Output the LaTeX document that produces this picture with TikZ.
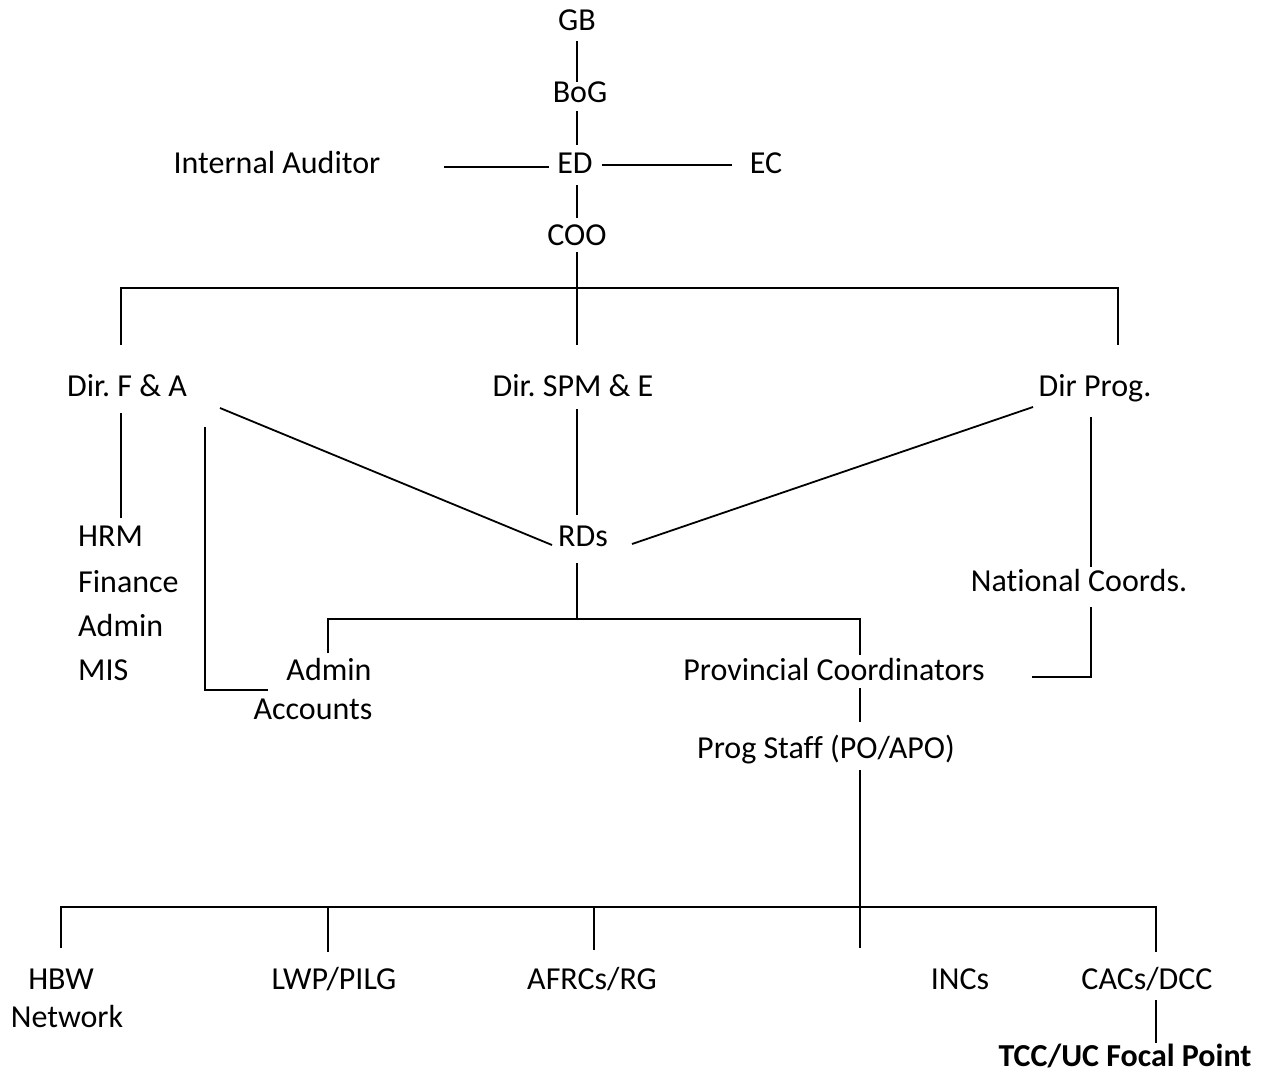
\documentclass[tikz,border=0pt]{standalone}
\usepackage{fontspec}
\setmainfont{Carlito}[Ligatures=NoCommon]
\begin{document}
\frenchspacing
\begin{tikzpicture}[x=1pt,y=-1pt,
  lbl/.style={inner sep=0pt,anchor=base,font=\fontsize{32}{38}\selectfont},
  lbll/.style={lbl,anchor=base west},
  conn/.style={line width=1.8pt,line cap=butt}]
\useasboundingbox (0,0) rectangle (1266,1072);
% labels
\node[lbl] (GB) at (577,30) {GB};
\node[lbl] (BoG) at (580,102) {BoG};
\node[lbl] (ED) at (575,173) {ED};
\node[lbl] (IA) at (277,173) {Internal Auditor};
\node[lbl] (EC) at (766,173) {EC};
\node[lbl] (COO) at (577,245) {COO};
\node[lbl] (DFA) at (127,396) {Dir. F \& A};
\node[lbl] (DSPM) at (573,396) {Dir. SPM \& E};
\node[lbl] (DProg) at (1095,396) {Dir Prog.};
\node[lbll] (HRM) at (78,546) {HRM};
\node[lbll] (Fin) at (78,592) {Finance};
\node[lbll] (AdminA) at (78,636) {Admin};
\node[lbll] (MIS) at (78,680) {MIS};
\node[lbl] (RDs) at (583,546) {RDs};
\node[lbl] (NatC) at (1079,591) {National Coords.};
\node[lbl] (AdminB) at (329,680) {Admin};
\node[lbl] (Acc) at (313,719) {Accounts};
\node[lbl] (ProvC) at (834,680) {Provincial Coordinators};
\node[lbl] (ProgS) at (826,758) {Prog Staff (PO/APO)};
\node[lbl] (HBW) at (61,989) {HBW};
\node[lbl] (Net) at (67,1027) {Network};
\node[lbl] (LWP) at (334,989) {LWP/PILG};
\node[lbl] (AFRC) at (592,989) {AFRCs/RG};
\node[lbl] (INC) at (960,989) {INCs};
\node[lbl] (CAC) at (1147,989) {CACs/DCC};
\node[lbl,font=\fontsize{32}{38}\selectfont\bfseries] (TCC) at (1125,1066) {TCC/UC Focal Point};
% junction coordinates
\coordinate (barTL) at (121,288);
\coordinate (barTR) at (1118,288);
\coordinate (barTM) at (577,288);
\coordinate (barRL) at (328,619);
\coordinate (barRR) at (860,619);
\coordinate (barRM) at (577,619);
\coordinate (barBL) at (61,907);
\coordinate (barBR) at (1156,907);
\coordinate (barBM) at (860,907);
\coordinate (accC) at (205,690);
\coordinate (natC) at (1091,677);
% connectors
\draw[conn] (GB.south |- 0,41) -- (GB.south |- 0,82);
\draw[conn] (GB.south |- 0,111) -- (GB.south |- 0,145);
\draw[conn] (GB.south |- 0,185) -- (GB.south |- 0,218);
\draw[conn] (444,167) -- (549,167);
\draw[conn] (602,165) -- (732,165);
\draw[conn] (COO.south |- 0,252) -- (COO.south |- 0,345);
\draw[conn] (121,345) -- (barTL) -- (barTR) -- (1118,345);
\draw[conn] (121,413) -- (121,518);
\draw[conn] (220,408) -- (552,545);
\draw[conn] (205,427) -- (accC) -- (268,690);
\draw[conn] (577,409) -- (577,515);
\draw[conn] (1033,407) -- (632,544);
\draw[conn] (1091,417) -- (1091,567);
\draw[conn] (1091,607) -- (natC) -- (1032,677);
\draw[conn] (577,563) -- (barRM);
\draw[conn] (328,653) -- (barRL) -- (barRR) -- (860,655);
\draw[conn] (860,688) -- (860,722);
\draw[conn] (860,770) -- (860,948);
\draw[conn] (61,948) -- (barBL) -- (barBR) -- (1156,952);
\draw[conn] (328,907) -- (328,952);
\draw[conn] (594,907) -- (594,950);
\draw[conn] (1156,1000) -- (1156,1043);
\end{tikzpicture}
\end{document}
